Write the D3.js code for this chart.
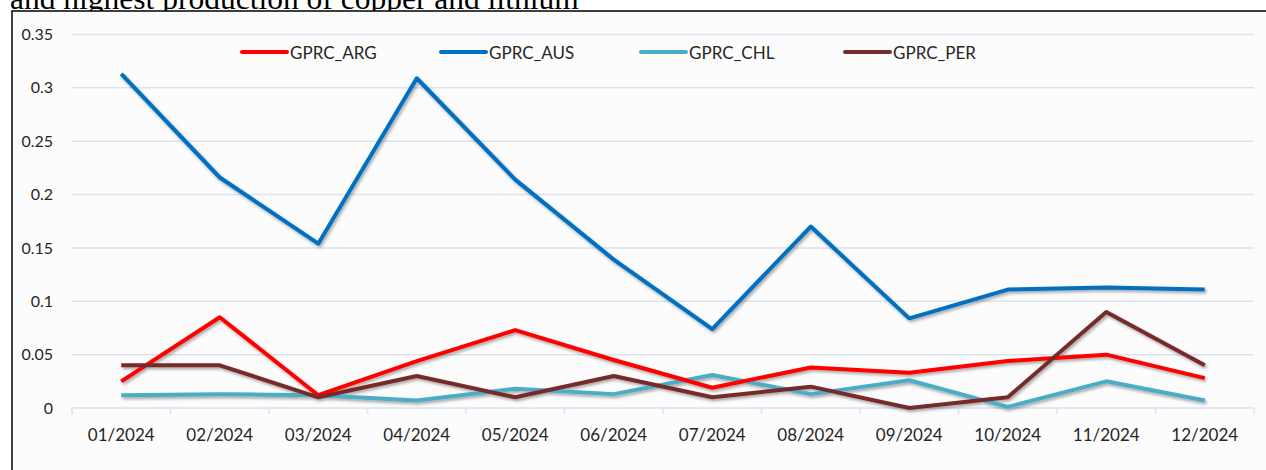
<!DOCTYPE html>
<html>
<head>
<meta charset="utf-8">
<style>
    body { margin: 0; background: white; }
    svg text { font-family: Lato, "Open Sans", sans-serif; fill: #262626; }
    .caption { font-family: "Liberation Serif", "Times New Roman", serif; fill: black; }
</style>
<script src="https://cdn.jsdelivr.net/npm/d3@7"></script>
</head>
<body>
<svg id="chart" width="1266" height="470"></svg>
<script>
const months = ["01/2024","02/2024","03/2024","04/2024","05/2024","06/2024","07/2024","08/2024","09/2024","10/2024","11/2024","12/2024"];
const yTicks = [0, 0.05, 0.1, 0.15, 0.2, 0.25, 0.3, 0.35];
const seriesNames = ["GPRC_ARG", "GPRC_AUS", "GPRC_CHL", "GPRC_PER"];
const gprcArg = [0.025, 0.085, 0.012, 0.044, 0.073, 0.045, 0.019, 0.038, 0.033, 0.044, 0.050, 0.028];
const gprcAus = [0.313, 0.216, 0.154, 0.309, 0.214, 0.139, 0.074, 0.170, 0.084, 0.111, 0.113, 0.111];
const gprcChl = [0.012, 0.013, 0.012, 0.007, 0.018, 0.013, 0.031, 0.013, 0.026, 0.001, 0.025, 0.007];
const gprcPer = [0.040, 0.040, 0.010, 0.030, 0.010, 0.030, 0.010, 0.020, 0.000, 0.010, 0.090, 0.040];
const colors = ["#ff0000", "#0070c0", "#4bacc6", "#772c2a"];

const svg = d3.select("#chart");

// caption from the page above, cut off by the top of the picture
svg.append("text").attr("class", "caption")
    .attr("x", 10).attr("y", 9)
    .attr("font-size", 31.5)
    .text("and highest production of copper and lithium");

// chart frame
svg.append("rect")
    .attr("x", 12).attr("y", 11)
    .attr("width", 1300).attr("height", 500)
    .attr("fill", "#fcfcfc")
    .attr("stroke", "black").attr("stroke-width", 1.5);

const defs = svg.append("defs");
const f = defs.append("filter").attr("id", "shadow")
    .attr("x", "-5%").attr("y", "-5%").attr("width", "110%").attr("height", "120%");
f.append("feDropShadow").attr("dx", 1.5).attr("dy", 2).attr("stdDeviation", 1.5)
    .attr("flood-color", "#000").attr("flood-opacity", 0.35);

const x = d3.scaleBand().domain(months).range([72, 1254]);
const y = d3.scaleLinear().domain([0, 0.35]).range([408, 34.5]);

// gridlines
svg.append("g").selectAll("line").data(yTicks.slice(1)).join("line")
    .attr("x1", 72).attr("x2", 1254)
    .attr("y1", d => y(d)).attr("y2", d => y(d))
    .attr("stroke", "#d9e3f2").attr("stroke-width", 1.5);

// y labels
svg.append("g").selectAll("text").data(yTicks).join("text")
    .attr("x", 53).attr("y", d => y(d))
    .attr("dy", "0.35em").attr("text-anchor", "end")
    .attr("font-size", 16)
    .text(d => d);

// x axis
const xAxis = svg.append("g").attr("transform", "translate(0," + y(0) + ")");
xAxis.append("line").attr("x1", 72).attr("x2", 1254)
    .attr("stroke", "#d9e3f2").attr("stroke-width", 1.5);
xAxis.selectAll("line.tk").data(months.concat(["end"])).join("line").attr("class", "tk")
    .attr("x1", (d, i) => i < months.length ? x(d) : 1254)
    .attr("x2", (d, i) => i < months.length ? x(d) : 1254)
    .attr("y1", 0).attr("y2", 6)
    .attr("stroke", "#d9e3f2").attr("stroke-width", 1.5);
xAxis.selectAll("text").data(months).join("text")
    .attr("x", d => x(d) + x.bandwidth() / 2).attr("y", 33)
    .attr("text-anchor", "middle").attr("font-size", 17)
    .text(d => d);

// lines
const allSeries = [gprcArg, gprcAus, gprcChl, gprcPer];
const line = d3.line()
    .x((d, i) => x(months[i]) + x.bandwidth() / 2)
    .y(d => y(d));
const drawOrder = [2, 0, 1, 3];
svg.append("g").attr("filter", "url(#shadow)")
    .selectAll("path").data(drawOrder).join("path")
    .attr("d", k => line(allSeries[k]))
    .attr("fill", "none")
    .attr("stroke", k => colors[k])
    .attr("stroke-width", 4)
    .attr("stroke-linejoin", "round");

// legend
const legendX = [242, 441, 641, 845];
const lg = svg.append("g").selectAll("g").data(seriesNames).join("g")
    .attr("transform", (d, i) => "translate(" + legendX[i] + ",52)");
lg.append("line").attr("x1", 0).attr("x2", 45)
    .attr("stroke", (d, i) => colors[i]).attr("stroke-width", 4)
    .attr("stroke-linecap", "round");
lg.append("text").attr("x", 48).attr("y", 7)
    .attr("font-size", 17).text(d => d);
</script>
</body>
</html>
